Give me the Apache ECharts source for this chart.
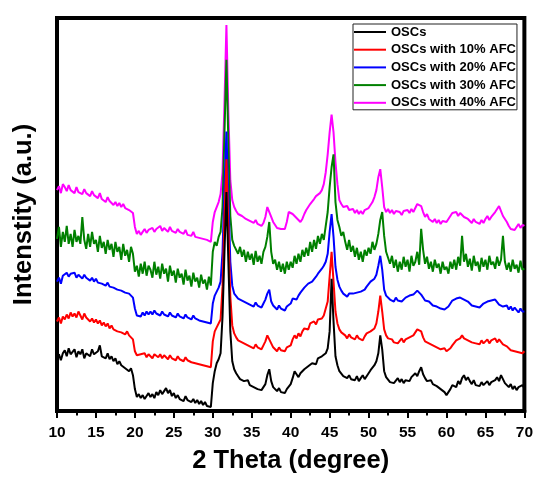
<!DOCTYPE html>
<html><head><meta charset="utf-8">
<script src="https://cdn.jsdelivr.net/npm/echarts@6/dist/echarts.min.js"></script>
<style>html,body{margin:0;padding:0;background:#fff}#c{width:536px;height:479px}</style>
</head><body><div id="c"></div>
<script>
// Sampling grid (2θ, degrees), 0.25° step from 10 to 70
const twoTheta = [];
for (let i = 0; i <= 240; i++) twoTheta.push(10 + i * 0.25);

const seriesNames = ['OSCs', 'OSCs with 10% AFC', 'OSCs with 20% AFC', 'OSCs with 30% AFC', 'OSCs with 40% AFC'];
const seriesColors = ['#000000', '#ff0000', '#0000ff', '#008000', '#ff00ff'];
const xTicks = [10, 15, 20, 25, 30, 35, 40, 45, 50, 55, 60, 65, 70];

// Intensities (a.u., stacked offsets as in the figure)
const osc = [
53,57,51,58, 61,55,63,57, 59,62,54,60, 57,62,53,58, 60,55,62,57, 58,60,66,55, 57,53,58,52, 55,50,53,47, 50,46,48,43, 44,40,43,36,
22,14,17,13, 16,12,15,18, 14,17,13,19, 16,21,17,20, 23,18,21,15, 18,13,16,12, 14,10,15,11, 13,9,12,8, 11,7,10,6, 9,5,7,4,
28,40,48,52, 58,95,160,220, 150,80,50,42, 38,35,32,34, 30,28,31,26, 27,24,26,22, 24,21,23,27, 36,42,30,24, 22,20,23,19, 21,18,22,20,
27,33,40,37, 34,38,36,42, 40,45,43,48, 50,47,53,51, 55,53,58,63, 80,133,90,55, 46,40,38,35, 37,33,36,32, 34,31,35,30, 33,36,32,35,
38,41,40,46, 50,58,76,62, 40,34,32,29, 31,28,30,33, 29,32,28,31, 33,30,34,36, 38,35,40,44, 37,33,30,28, 31,27,29,25, 26,22,24,19,
16,14,22,26, 28,24,30,27, 33,36,31,34, 30,27,31,26, 28,25,29,26, 27,30,26,29, 28,31,34,30, 36,32,28,26, 24,27,22,25, 21,24,22,26,
23];
const afc10 = [
90,94,88,95, 92,97,93,99, 95,98,94,100, 96,92,98,94, 95,90,93,89, 92,88,91,86, 89,85,88,83, 86,82,84,80, 82,79,81,77, 80,76,78,72,
60,56,54,57, 55,58,54,57, 56,53,57,55, 54,57,53,56, 55,52,56,53, 54,51,55,52, 53,50,54,51, 52,49,51,48, 50,47,49,46, 48,45,47,44,
70,80,84,86, 92,125,195,253, 185,115,86,78, 74,71,73,69, 70,67,69,65, 66,63,67,64, 65,62,66,70, 76,78,68,64, 63,60,64,61, 63,60,64,62,
66,72,76,73, 78,75,80,83, 85,82,88,86, 90,87,92,91, 93,96,98,110, 135,160,130,100, 88,82,79,77, 76,73,77,74, 75,72,76,73, 74,71,75,78,
76,80,78,83, 88,100,116,100, 82,76,73,71, 72,69,71,68, 70,73,69,72, 71,74,72,76, 78,82,84,80, 74,70,72,68, 69,66,68,64, 65,62,60,63,
60,58,63,66, 68,71,69,73, 76,73,75,71, 72,69,71,68, 70,67,71,68, 69,72,68,71, 70,73,69,72, 70,67,69,65, 64,61,63,60, 62,59,61,58,
60];
const afc20 = [
130,134,128,136, 134,139,135,138, 136,139,134,137, 136,133,137,134, 135,131,134,130, 133,129,131,128, 130,126,129,125, 127,124,126,122, 124,121,123,119, 121,118,119,114,
103,96,98,95, 99,96,100,97, 100,97,101,98, 99,96,100,97, 98,95,99,96, 97,94,98,95, 96,93,97,94, 95,92,96,93, 94,91,93,90, 92,89,91,88,
108,116,120,124, 130,160,225,281, 215,150,126,118, 116,113,115,111, 112,109,111,107, 108,105,109,106, 107,104,108,112, 118,122,110,106, 105,102,106,103, 104,101,105,103,
108,113,114,112, 116,119,121,124, 125,128,126,130, 132,135,138,140, 143,146,150,158, 180,198,175,145, 132,125,121,118, 117,115,118,116, 118,116,119,117, 120,118,122,125,
127,130,129,133, 137,146,156,142, 122,116,114,112, 113,110,114,111, 113,110,112,114, 113,116,114,117, 118,121,120,117, 114,111,113,110, 109,106,108,105, 106,103,105,102,
103,105,108,111, 110,113,111,114, 115,112,114,110, 109,106,108,105, 107,104,106,108, 107,110,108,111, 109,112,110,107, 108,105,103,106, 102,105,101,104, 102,99,103,100,
100];
const afc30 = [
173,185,165,180, 170,186,168,178, 165,182,170,176, 168,195,172,163, 178,165,180,168, 172,160,176,164, 170,158,172,162, 168,155,170,160, 165,152,168,156, 162,150,165,158,
140,146,135,148, 138,150,136,146, 142,134,150,137, 145,133,148,138, 143,130,146,136, 141,129,143,134, 138,127,142,131, 136,125,139,130, 134,124,137,128, 132,122,135,126,
160,170,166,175, 180,205,280,353, 270,196,172,166, 168,158,165,155, 162,150,160,152, 158,147,161,150, 156,148,160,165, 175,190,160,148, 152,142,150,140, 148,138,150,142,
150,144,156,148, 158,150,162,155, 164,156,170,160, 172,163,176,168, 178,172,186,200, 225,245,258,210, 192,185,176,180, 170,162,172,160, 166,155,164,152, 160,150,162,156,
164,158,170,162, 168,178,192,200, 176,160,154,148, 156,144,152,140, 150,142,155,145, 152,140,156,146, 150,160,147,183, 162,148,155,143, 150,140,152,144, 148,138,150,142,
145,138,150,143, 152,142,155,146, 176,150,158,145, 153,141,156,146, 150,140,154,145, 152,142,156,147, 150,143,155,146, 152,176,150,142, 149,140,152,143, 147,139,151,142,
143];
const afc40 = [
222,226,219,228, 225,221,227,222, 224,219,225,220, 222,218,223,219, 220,216,221,217, 218,214,219,213, 214,210,215,211, 212,207,210,206, 209,205,208,204, 206,202,204,199,
185,178,181,177, 180,183,179,182, 181,184,180,183, 182,186,181,184, 183,180,185,181, 182,179,183,180, 181,178,182,177, 179,176,180,175, 177,174,176,173, 175,172,174,170,
190,200,205,210, 218,240,310,388, 300,232,212,205, 201,198,200,196, 197,193,195,191, 193,189,192,188, 190,186,189,195, 205,206,195,190, 187,184,186,183, 185,183,190,200,
202,198,200,194, 196,190,193,198, 202,205,208,210, 213,216,215,219, 222,228,240,258, 280,298,280,250, 228,212,208,205, 203,206,202,200, 203,199,202,198, 201,198,202,200,
204,206,210,215, 222,235,243,225, 205,200,203,199, 202,198,201,203, 200,197,201,199, 202,199,203,200, 204,208,210,206, 200,195,198,193, 194,190,193,189, 192,188,191,189,
190,193,196,199, 197,200,196,199, 198,195,197,193, 192,189,193,190, 191,188,192,189, 193,196,192,195, 197,200,203,206, 201,196,198,190, 186,183,185,182, 185,188,184,187,
186];

const allValues = [osc, afc10, afc20, afc30, afc40];
const FONT = '"Liberation Sans", Arial, Helvetica, sans-serif';

const chart = echarts.init(document.getElementById('c'), null, {renderer: 'canvas'});
// draw 40% first so that OSCs ends on top (as in the figure)
const order = [4, 3, 2, 1, 0];
const series = order.map(k => ({
  name: seriesNames[k],
  type: 'line',
  showSymbol: false,
  symbol: 'none',
  data: twoTheta.map((x, i) => [x, allValues[k][i]]),
  lineStyle: {color: seriesColors[k], width: 2},
  itemStyle: {color: seriesColors[k]},
  animation: false,
  silent: true
}));

chart.setOption({
  animation: false,
  backgroundColor: '#fff',
  grid: {left: 57, right: 11, top: 18, bottom: 66, show: true, borderColor: '#000', borderWidth: 4, backgroundColor: 'transparent'},
  legend: {
    orient: 'vertical', left: 353, top: 24,
    data: seriesNames,
    icon: 'rect', itemWidth: 32, itemHeight: 2, itemGap: 3.7,
    padding: [1, 1, 0, 1],
    borderColor: '#222', borderWidth: 1,
    textStyle: {fontFamily: FONT, fontWeight: 'bold', fontSize: 13, color: '#000', lineHeight: 14},
    selectedMode: false
  },
  xAxis: {
    type: 'value', min: 10, max: 70, interval: 5,
    name: '2 Theta (degree)', nameLocation: 'middle', nameGap: 37,
    nameTextStyle: {fontFamily: FONT, fontWeight: 'bold', fontSize: 25.5, color: '#000'},
    axisLine: {show: true, lineStyle: {color: '#000', width: 4}},
    axisTick: {show: true, inside: false, length: 7, lineStyle: {color: '#000', width: 2}},
    minorTick: {show: true, splitNumber: 2, length: 4.5, lineStyle: {color: '#000', width: 2}},
    axisLabel: {fontFamily: FONT, fontWeight: 'bold', fontSize: 15.5, color: '#000', margin: 14,
      formatter: v => xTicks.includes(v) ? String(v) : ''},
    splitLine: {show: false}
  },
  yAxis: {
    type: 'value', min: 0, max: 395,
    name: 'Intenstity (a.u.)', nameLocation: 'middle', nameGap: 20,
    nameTextStyle: {fontFamily: FONT, fontWeight: 'bold', fontSize: 25.5, color: '#000'},
    axisLine: {show: true, lineStyle: {color: '#000', width: 4}},
    axisTick: {show: false},
    axisLabel: {show: false},
    splitLine: {show: false}
  },
  series: series
});
</script>
</body></html>
